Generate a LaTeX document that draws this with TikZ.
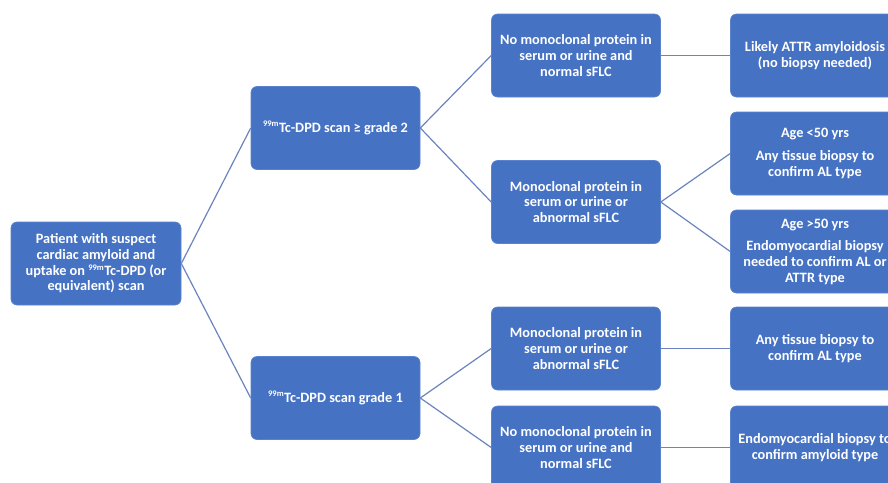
\documentclass[tikz,border=0pt]{standalone}
\usepackage{fontspec}
\setmainfont{Carlito}
\definecolor{boxblue}{RGB}{70,114,196}
\definecolor{boxedge}{RGB}{90,130,205}
\definecolor{linkblue}{RGB}{108,132,190}
\begin{document}
\begin{tikzpicture}[x=1pt,y=-1pt,
  flowbox/.style={rectangle, rounded corners=6pt, fill=boxblue, draw=boxedge, line width=0.6pt,
    minimum width=169pt, minimum height=83pt, inner sep=2pt, align=center,
    text=white, font=\fontsize{14.3}{15.7}\selectfont\bfseries},
  link/.style={draw=linkblue, line width=1.2pt}]
\useasboundingbox (0,0) rectangle (888,482);
\clip (0,0) rectangle (888,482);
\fill[white] (0,0) rectangle (888,482);
\newcommand{\tcsup}{\textsuperscript{\fontsize{8.5}{9}\selectfont 99m}}
\node[flowbox, minimum width=170pt] (root) at (96,263.5) {Patient with suspect\\cardiac amyloid and\\uptake on \tcsup Tc-DPD (or\\equivalent) scan};
\node[flowbox] (g2) at (335.5,128) {\tcsup Tc-DPD scan ≥ grade 2};
\node[flowbox] (g1) at (335.5,398) {\tcsup Tc-DPD scan grade 1};
\node[flowbox] (a) at (576,55.5) {No monoclonal protein in\\serum or urine and\\normal sFLC};
\node[flowbox] (b) at (576,202) {Monoclonal protein in\\serum or urine or\\abnormal sFLC};
\node[flowbox] (c) at (576,348.5) {Monoclonal protein in\\serum or urine or\\abnormal sFLC};
\node[flowbox] (d) at (576,447.5) {No monoclonal protein in\\serum or urine and\\normal sFLC};
\node[flowbox] (ra) at (815,55.5) {Likely ATTR amyloidosis\\(no biopsy needed)};
\node[flowbox] (rb) at (815,153.5) {Age <50 yrs\\[7pt]Any tissue biopsy to\\confirm AL type};
\node[flowbox] (rc) at (815,251.5) {Age >50 yrs\\[7pt]Endomyocardial biopsy\\needed to confirm AL or\\ATTR type};
\node[flowbox] (rd) at (815,348.5) {Any tissue biopsy to\\confirm AL type};
\node[flowbox] (re) at (815,447.5) {Endomyocardial biopsy to\\confirm amyloid type};
\draw[link] (root.east) -- (g2.west);
\draw[link] (root.east) -- (g1.west);
\draw[link] (g2.east) -- (a.west);
\draw[link] (g2.east) -- (b.west);
\draw[link] (g1.east) -- (c.west);
\draw[link] (g1.east) -- (d.west);
\draw[link] (a.east) -- (ra.west);
\draw[link] (b.east) -- (rb.west);
\draw[link] (b.east) -- (rc.west);
\draw[link] (c.east) -- (rd.west);
\draw[link] (d.east) -- (re.west);
\end{tikzpicture}
\end{document}
